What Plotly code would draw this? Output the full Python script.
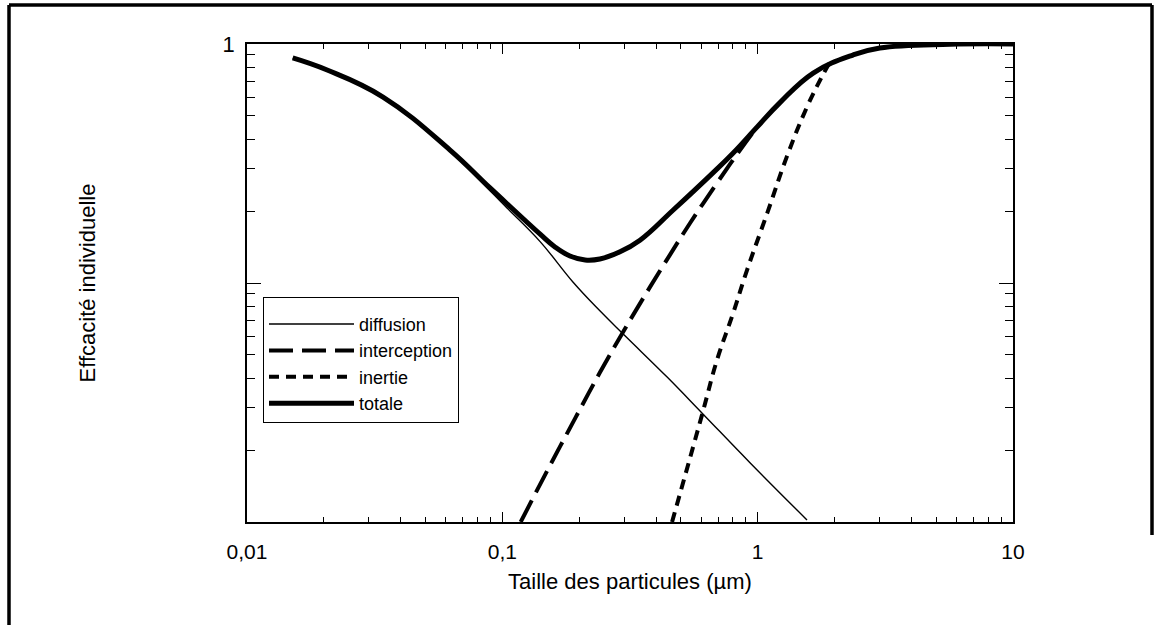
import plotly.graph_objects as go

# Data (log-log axes)
diff_x = [0.0151, 0.0206, 0.0341, 0.0624, 0.0895, 0.1043, 0.1406, 0.189, 0.241, 0.303, 0.442, 0.605, 0.933, 1.56]
diff_y = [0.870, 0.774, 0.596, 0.356, 0.243, 0.206, 0.149, 0.101, 0.0765, 0.0600, 0.0404, 0.0286, 0.0177, 0.0102]

inter_x = [0.118, 0.147, 0.193, 0.241, 0.294, 0.379, 0.454, 0.543, 0.693, 0.853, 0.996]
inter_y = [0.0100, 0.01575, 0.0272, 0.0422, 0.0612, 0.0963, 0.1315, 0.1778, 0.262, 0.360, 0.451]

inert_x = [0.462, 0.605, 0.693, 0.802, 0.908, 1.09, 1.30, 1.56, 1.80, 1.97]
inert_y = [0.0100, 0.0280, 0.0476, 0.0749, 0.113, 0.196, 0.337, 0.545, 0.742, 0.882]

tot_x = [0.0151, 0.0206, 0.0341, 0.0624, 0.0895, 0.1406, 0.1607, 0.184, 0.211, 0.241, 0.289, 0.346,
         0.467, 0.668, 0.802, 0.996, 1.22, 1.65, 2.36, 3.01, 5.67, 10.0]
tot_y = [0.874, 0.778, 0.600, 0.360, 0.250, 0.160, 0.1415, 0.1297, 0.1248, 0.126, 0.135, 0.151,
         0.202, 0.289, 0.350, 0.450, 0.567, 0.756, 0.899, 0.962, 0.997, 1.0]

x_tickvals = [0.01, 0.1, 1, 10]
x_ticktext = ["0,01", "0,1", "1", "10"]
y_tickvals = [0.01, 0.1, 1]
y_ticktext = ["", "", "1"]

minor_x = [m * d for d in (0.01, 0.1, 1) for m in range(2, 10)]
minor_y = [m * d for d in (0.01, 0.1) for m in range(2, 10)]

FONT = "Liberation Sans, Arial, sans-serif"
SM = 1.2

fig = go.Figure()
fig.add_trace(go.Scatter(x=diff_x, y=diff_y, mode="lines", name="diffusion",
                         line=dict(color="black", width=1.4, shape="spline", smoothing=SM)))
fig.add_trace(go.Scatter(x=inter_x, y=inter_y, mode="lines", name="interception",
                         line=dict(color="black", width=4, dash="24px,9px", shape="spline", smoothing=SM)))
fig.add_trace(go.Scatter(x=inert_x, y=inert_y, mode="lines", name="inertie",
                         line=dict(color="black", width=4, dash="10px,7px", shape="spline", smoothing=SM)))
fig.add_trace(go.Scatter(x=tot_x, y=tot_y, mode="lines", name="totale",
                         line=dict(color="black", width=5, shape="spline", smoothing=SM)))

W, H = 1159, 625
L, R, T, B = 247, 1159 - 1013, 44, 625 - 522
pw, ph = W - L - R, H - T - B

def px(xp):
    return (xp - L) / pw

def py(yp):
    return (H - B - yp) / ph

fig.update_layout(
    width=W, height=H,
    margin=dict(l=L, r=R, t=T, b=B, autoexpand=False),
    paper_bgcolor="white", plot_bgcolor="white",
    font=dict(family=FONT, size=21, color="black"),
    showlegend=True,
    legend=dict(x=px(263), y=py(297), xanchor="left", yanchor="top",
                bgcolor="white", bordercolor="black", borderwidth=1,
                font=dict(size=18, family=FONT), itemwidth=85,
                title=dict(text="\u00a0", font=dict(size=6))),
    xaxis=dict(type="log", range=[-2, 1], tickmode="array", tickvals=x_tickvals,
               ticktext=x_ticktext, ticks="inside", ticklen=10, tickwidth=1,
               tickcolor="black", showline=True, linecolor="black", linewidth=1.5,
               mirror="allticks", showgrid=False, zeroline=False,
               tickfont=dict(size=21), ticklabelstandoff=10,
               title=dict(text="Taille des particules (µm)", font=dict(size=22), standoff=12),
               minor=dict(tickmode="array", tickvals=minor_x, ticks="inside", ticklen=5,
                          tickcolor="black", tickwidth=1, showgrid=False)),
    yaxis=dict(type="log", range=[-2, 0], tickmode="array", tickvals=y_tickvals,
               ticktext=y_ticktext, ticks="inside", ticklen=14, tickwidth=1,
               tickcolor="black", showline=True, linecolor="black", linewidth=1.5,
               mirror="allticks", showgrid=False, zeroline=False,
               tickfont=dict(size=22), ticklabelstandoff=6,
               title=dict(text="Effcacité individuelle", font=dict(size=22), standoff=121),
               minor=dict(tickmode="array", tickvals=minor_y, ticks="inside", ticklen=8,
                          tickcolor="black", tickwidth=1, showgrid=False)),
)

# Outer frame of the figure (page border)
frame = dict(type="line", xref="paper", yref="paper", line=dict(color="black", width=3.5))
fig.add_shape(**frame, x0=px(9), x1=px(1152), y0=py(5), y1=py(5))
fig.add_shape(**frame, x0=px(9), x1=px(9), y0=py(5), y1=py(625))
fig.add_shape(**frame, x0=px(1152), x1=px(1152), y0=py(5), y1=py(535))

fig.write_html("out.html", config={"displayModeBar": False},
               post_script="document.body.style.margin='0';")
